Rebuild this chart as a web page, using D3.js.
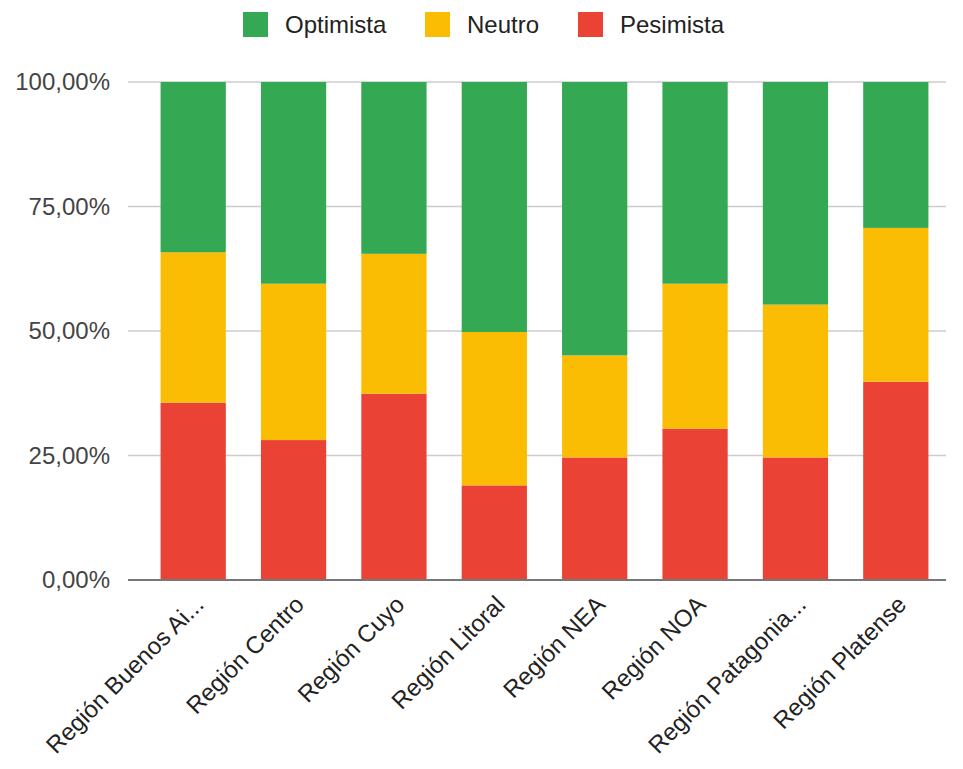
<!DOCTYPE html>
<html><head><meta charset="utf-8">
<script src="https://cdn.jsdelivr.net/npm/d3@7"></script>
<style>body{margin:0;background:#fff}svg{display:block}</style>
</head><body>
<svg id="c" width="963" height="769"></svg>
<script>
const categories = ["Región Buenos Ai...","Región Centro","Región Cuyo","Región Litoral","Región NEA","Región NOA","Región Patagonia...","Región Platense"];
const pesimista = [35.6, 28.1, 37.4, 19.0, 24.6, 30.4, 24.6, 39.8];
const neutro    = [30.2, 31.4, 28.1, 30.8, 20.5, 29.1, 30.7, 30.9];
const optimista = [34.2, 40.5, 34.5, 50.2, 54.9, 40.5, 44.7, 29.3];
const seriesNames = ["Optimista","Neutro","Pesimista"];
const colors = {Optimista:"#34A853", Neutro:"#FBBC04", Pesimista:"#EA4335"};
const yTicks = [0, 25, 50, 75, 100];

const svg = d3.select("#c");
const font = "Arial, 'Liberation Sans', sans-serif";
const x = d3.scaleBand().domain(categories).range([143, 946]).paddingInner(0.35).paddingOuter(0.175);
const y = d3.scaleLinear().domain([0, 100]).range([580, 82]);

const rows = categories.map((c,i)=>({cat:c, Pesimista:pesimista[i], Neutro:neutro[i], Optimista:optimista[i]}));
const stack = d3.stack().keys(["Pesimista","Neutro","Optimista"]);
const layers = stack(rows);

// gridlines
svg.append("g").selectAll("line").data(yTicks.filter(d=>d>0)).join("line")
  .attr("x1",128).attr("x2",946).attr("y1",d=>y(d)).attr("y2",d=>y(d))
  .attr("stroke","#cccccc").attr("stroke-width",1.5);

// y labels
svg.append("g").selectAll("text").data(yTicks).join("text")
  .attr("x",110).attr("y",d=>y(d)).attr("dy","0.35em").attr("text-anchor","end")
  .attr("font-family",font).attr("font-size",24).attr("fill","#444")
  .text(d=>d3.format(".2f")(d).replace(".",",")+"%");

// bars
svg.append("g").selectAll("g").data(layers).join("g")
  .attr("fill",d=>colors[d.key])
  .selectAll("rect").data(d=>d).join("rect")
  .attr("x",d=>x(d.data.cat)).attr("width",x.bandwidth())
  .attr("y",d=>y(d[1])).attr("height",d=>y(d[0])-y(d[1]));

// baseline
svg.append("line").attr("x1",128).attr("x2",946).attr("y1",y(0)).attr("y2",y(0))
  .attr("stroke","#777").attr("stroke-width",2);

// x labels
svg.append("g").selectAll("text").data(categories).join("text")
  .attr("transform",d=>`translate(${x(d)+x.bandwidth()/2+12},${606}) rotate(-45)`)
  .attr("text-anchor","end")
  .attr("font-family",font).attr("font-size",24).attr("fill","#222")
  .text(d=>d);

// legend
const legendX = [243, 425, 578];
const lg = svg.append("g").selectAll("g").data(seriesNames).join("g")
  .attr("transform",(d,i)=>`translate(${legendX[i]},12)`);
lg.append("rect").attr("width",25).attr("height",25).attr("fill",d=>colors[d]);
lg.append("text").attr("x",42).attr("y",12.5).attr("dy","0.35em")
  .attr("font-family",font).attr("font-size",24).attr("fill","#222").text(d=>d);
</script>
</body></html>
